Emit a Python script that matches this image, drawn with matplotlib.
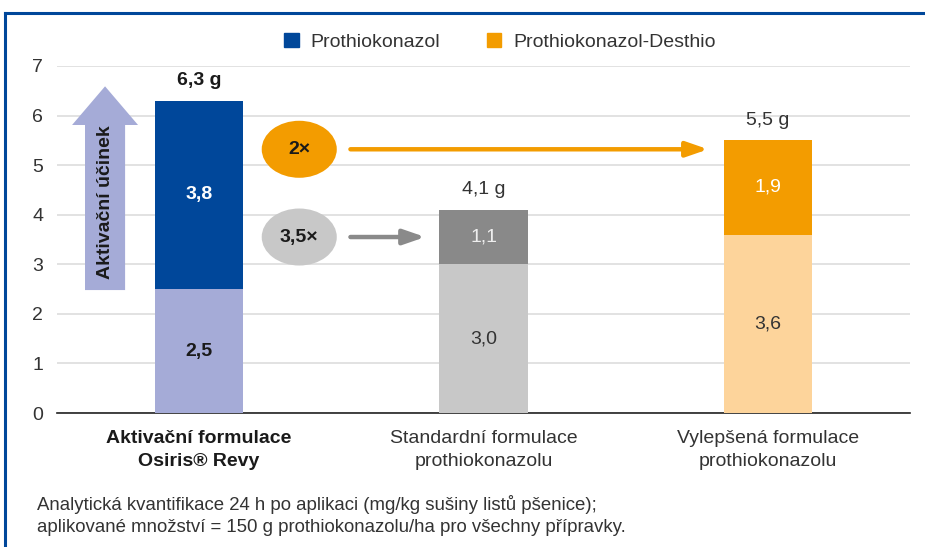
import matplotlib.pyplot as plt
import matplotlib.patches as mpatches
from matplotlib.lines import Line2D

plt.rcParams['font.family'] = ['Liberation Sans', 'DejaVu Sans']

# Data
categories = ["Aktivační formulace\nOsiris® Revy",
              "Standardní formulace\nprothiokonazolu",
              "Vylepšená formulace\nprothiokonazolu"]
desthio = [2.5, 3.0, 3.6]        # spodní segment
prothio = [3.8, 1.1, 1.9]        # horní segment
totals = ["6,3 g", "4,1 g", "5,5 g"]
bottom_labels = ["2,5", "3,0", "3,6"]
top_labels = ["3,8", "1,1", "1,9"]
factors = ["2×", "3,5×"]
legend_labels = ["Prothiokonazol", "Prothiokonazol-Desthio"]

BLUE = "#00479A"
ORANGE = "#F39C00"
bottom_colors = ["#A5ABD7", "#C8C8C8", "#FDD49B"]
top_colors = [BLUE, "#898989", ORANGE]
bottom_txt = ["#1a1a1a", "#333333", "#333333"]
top_txt = ["white", "#eeeeee", "white"]
weights = ["bold", "normal", "normal"]
TXT = "#333333"
FS = 14

fig = plt.figure(figsize=(9.25, 5.47), dpi=100)
ax = fig.add_axes([57 / 925, 1 - 413 / 547, (910 - 57) / 925, (413 - 66) / 547])

x = [0, 1, 2]
w = 0.31
ax.bar(x, desthio, width=w, color=bottom_colors, zorder=3)
ax.bar(x, prothio, width=w, bottom=desthio, color=top_colors, zorder=3)

for i in x:
    ax.text(i, desthio[i] / 2, bottom_labels[i], ha='center', va='center',
            fontsize=FS, color=bottom_txt[i], fontweight=weights[i], zorder=4)
    ax.text(i, desthio[i] + prothio[i] / 2, top_labels[i], ha='center', va='center',
            fontsize=FS, color=top_txt[i], fontweight=weights[i], zorder=4)
    ax.text(i, desthio[i] + prothio[i] + 0.41, totals[i], ha='center', va='center',
            fontsize=FS, color="#1a1a1a" if i == 0 else TXT,
            fontweight=weights[i], zorder=4)

ax.set_xlim(-0.5, 2.5)
ax.set_ylim(0, 7)
ax.set_yticks(range(0, 8))
ax.set_yticklabels([str(v) for v in range(0, 8)], fontsize=FS, color=TXT)
ax.tick_params(axis='y', length=0, pad=10)
ax.set_xticks(x)
ax.set_xticklabels(categories, fontsize=FS, color=TXT, linespacing=1.45)
ax.get_xticklabels()[0].set_fontweight('bold')
ax.get_xticklabels()[0].set_color("#1a1a1a")
ax.tick_params(axis='x', length=0, pad=12)
for s in ['top', 'right', 'left']:
    ax.spines[s].set_visible(False)
ax.spines['bottom'].set_color("#222222")
ax.spines['bottom'].set_linewidth(1.2)
ax.set_axisbelow(True)
ax.yaxis.grid(True, color="#dddddd", linewidth=1.2)

# Šipka "Aktivační účinek"
arrow = mpatches.FancyArrow(-0.331, 2.48, 0, 6.59 - 2.48, width=0.141,
                            head_width=0.232, head_length=6.59 - 5.81,
                            length_includes_head=True, color="#A5ABD7",
                            linewidth=0, zorder=3)
ax.add_patch(arrow)
ax.text(-0.331, 4.25, "Aktivační účinek", rotation=90, ha='center', va='center',
        fontsize=FS, fontweight='bold', color="#1a1a1a", zorder=4)

# Elipsy s faktory a šipky
for yy, col, lab, x_end in [(5.32, ORANGE, factors[0], 1.79),
                            (3.55, "#C8C8C8", factors[1], 0.795)]:
    ax.add_patch(mpatches.Ellipse((0.352, yy), 0.264, 1.15, color=col,
                                  linewidth=0, zorder=3))
    ax.text(0.352, yy, lab, ha='center', va='center', fontsize=FS,
            fontweight='bold', color="#1a1a1a", zorder=4)
    acol = ORANGE if col == ORANGE else "#8a8a8a"
    ax.annotate("", xy=(x_end, yy), xytext=(0.532, yy),
                arrowprops=dict(arrowstyle="-|>,head_length=1.3,head_width=0.45",
                                color=acol, lw=3.2, shrinkA=0, shrinkB=0),
                zorder=4)

# Legenda
handles = [mpatches.Patch(color=BLUE, label=legend_labels[0]),
           mpatches.Patch(color=ORANGE, label=legend_labels[1])]
fig.legend(handles=handles, loc='center', bbox_to_anchor=(500 / 925, 1 - 42 / 547),
           ncol=2, frameon=False, fontsize=FS, handlelength=0.75, handleheight=0.75,
           handletextpad=0.6, columnspacing=2.4, labelcolor=TXT)

# Poznámka
fig.text(37 / 925, 1 - 504 / 547,
         "Analytická kvantifikace 24 h po aplikaci (mg/kg sušiny listů pšenice);",
         fontsize=13.4, color=TXT, va='center')
fig.text(37 / 925, 1 - 528 / 547,
         "aplikované množství = 150 g prothiokonazolu/ha pro všechny přípravky.",
         fontsize=13.4, color=TXT, va='center')

# Rámeček
fig.add_artist(Line2D([5 / 925, 1.0], [1 - 13 / 547] * 2, color=BLUE, lw=2.2,
                      transform=fig.transFigure))
fig.add_artist(Line2D([5 / 925] * 2, [0, 1 - 13 / 547], color=BLUE, lw=2.2,
                      transform=fig.transFigure))

fig.savefig("out.png", dpi=100)
